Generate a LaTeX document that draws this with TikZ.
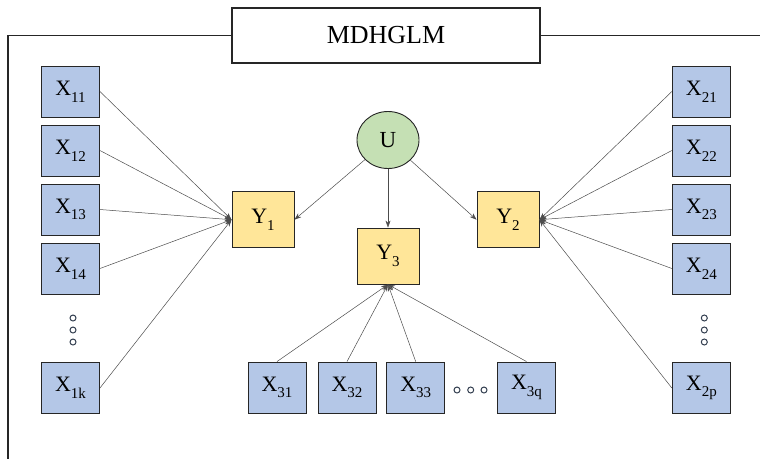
\documentclass[tikz,border=0pt]{standalone}
\usepackage{fontspec}
\setmainfont{Liberation Serif}
\usetikzlibrary{arrows.meta,shapes.geometric}
\definecolor{xblue}{HTML}{B4C7E7}
\definecolor{yyel}{HTML}{FFE699}
\definecolor{ugrn}{HTML}{C5E0B4}
\definecolor{dotc}{HTML}{333F50}
\newcommand{\vx}[2]{#1\raisebox{-0.3em}{\fontsize{15}{15}\selectfont #2}}
\begin{document}
\begin{tikzpicture}[x=1pt,y=-1pt,
  xbox/.style={draw=black!85, line width=0.9pt, fill=xblue, minimum width=58pt, minimum height=51pt, inner sep=0pt, font=\fontsize{22}{24}\selectfont},
  ybox/.style={draw=black!85, line width=0.9pt, fill=yyel, minimum width=62pt, minimum height=56pt, inner sep=0pt, font=\fontsize{22}{24}\selectfont},
  unode/.style={draw=black!85, line width=0.9pt, fill=ugrn, ellipse, minimum width=62pt, minimum height=57pt, inner sep=0pt, font=\fontsize{23}{24}\selectfont},
  titlebox/.style={draw=black!85, line width=1.1pt, fill=white, minimum width=308pt, minimum height=55pt, inner sep=0pt, font=\fontsize{26}{28}\selectfont},
  frameline/.style={draw=black!85, line width=1.2pt},
  arr/.style={-{Stealth[length=7pt,width=5pt]}, line width=0.5pt, draw=black!70},
  dotn/.style={circle, draw=dotc, line width=1pt, fill=white, minimum size=6pt, inner sep=0pt}
]
\useasboundingbox (0,0) rectangle (760,459);
% frame
\node[titlebox] (title) at (386,35.5) {MDHGLM};
\draw[frameline] (title.west) -- (8,35.5) -- (8,459);
\draw[frameline] (title.east) -- (760,35.5);
% left column
\node[xbox] (x11) at (70.5,91.5) {\vx{X}{11}};
\node[xbox] (x12) at (70.5,150.5) {\vx{X}{12}};
\node[xbox] (x13) at (70.5,209.5) {\vx{X}{13}};
\node[xbox] (x14) at (70.5,268.5) {\vx{X}{14}};
\node[xbox] (x1k) at (70.5,388) {\vx{X}{1k}};
% right column
\node[xbox] (x21) at (701.3,91.5) {\vx{X}{21}};
\node[xbox] (x22) at (701.3,150.5) {\vx{X}{22}};
\node[xbox] (x23) at (701.3,209.5) {\vx{X}{23}};
\node[xbox] (x24) at (701.3,268.5) {\vx{X}{24}};
\node[xbox] (x2p) at (701.3,388) {\vx{X}{2p}};
% bottom row
\node[xbox] (x31) at (277,387.5) {\vx{X}{31}};
\node[xbox] (x32) at (347,387.5) {\vx{X}{32}};
\node[xbox] (x33) at (415.7,387.5) {\vx{X}{33}};
\node[xbox] (x3q) at (526.5,387.5) {\vx{X}{3q}};
% Y and U
\node[ybox] (y1) at (263,219.7) {\vx{Y}{1}};
\node[ybox] (y2) at (508,219.7) {\vx{Y}{2}};
\node[ybox] (y3) at (388,256) {\vx{Y}{3}};
\node[unode] (u) at (388,140) {U};
% dots
\node[dotn] (dl1) at (73,318) {};
\node[dotn] (dl2) at (73,330) {};
\node[dotn] (dl3) at (73,342) {};
\node[dotn] (dr1) at (704.3,318) {};
\node[dotn] (dr2) at (704.3,330) {};
\node[dotn] (dr3) at (704.3,342) {};
\node[dotn] (db1) at (457,390) {};
\node[dotn] (db2) at (470.7,390) {};
\node[dotn] (db3) at (484,390) {};
% arrows
\foreach \n in {x11,x12,x13,x14,x1k} \draw[arr] (\n.east) -- (y1.west);
\foreach \n in {x21,x22,x23,x24,x2p} \draw[arr] (\n.west) -- (y2.east);
\foreach \n in {x31,x32,x33,x3q} \draw[arr] (\n.north) -- (y3.south);
\draw[arr] (u) -- (y1.east);
\draw[arr] (u) -- (y2.west);
\draw[arr] (u) -- (y3);
\end{tikzpicture}
\end{document}
